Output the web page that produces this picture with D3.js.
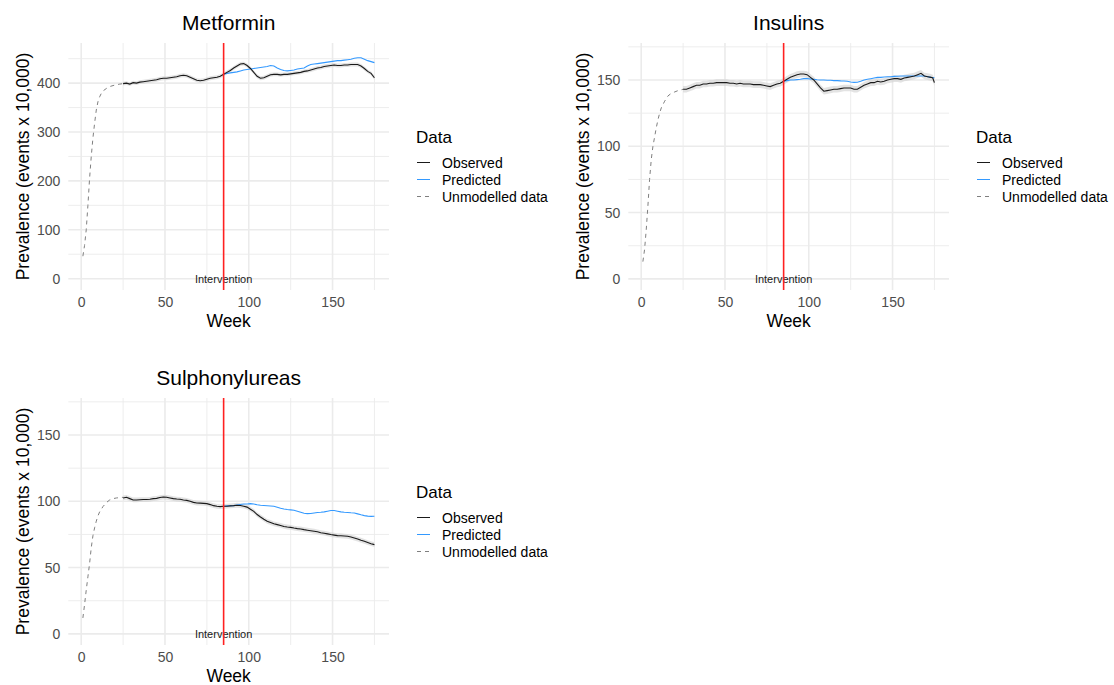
<!DOCTYPE html>
<html>
<head>
<meta charset="utf-8">
<script src="https://cdn.jsdelivr.net/npm/d3@7/dist/d3.min.js"></script>
<style>
  html, body { margin: 0; padding: 0; background: #ffffff; }
  svg { display: block; font-family: "Liberation Sans", Arial, sans-serif; }
</style>
</head>
<body>
<svg id="chart" width="1114" height="685"></svg>
<script>
// ---- Data: weekly prevalence (events x 10,000) -------------------------
const legendLabels = ["Observed", "Predicted", "Unmodelled data"];
const interventionWeek = 85;
const interventionLabel = "Intervention";

// Metformin
const metforminUnmodelled = [[1,46],[2,68],[3,100],[4,150],[5,205],[6,250],[7,288],[8,318],[9,345],[10,362],[11,372],[12,379],[13,384],[15,389],[17,393],[20,396],[23,398],[25,399]];
const metforminObserved = [[25,399],[27,400],[29,398],[31,401],[33,400],[35,402],[37,403],[39,404],[41,405],[43,406],[45,407],[47,409],[49,410],[51,410],[53,411],[55,412],[57,413],[59,415],[61,416],[63,415],[65,412],[67,409],[69,406],[71,405],[73,406],[75,408],[77,410],[79,411],[81,412],[83,414],[85,418],[87,422],[89,426],[91,431],[93,435],[95,439],[97,440],[99,436],[101,430],[103,422],[105,414],[107,410],[109,411],[111,414],[113,417],[115,418],[117,418],[119,417],[121,418],[123,418],[125,419],[127,420],[129,421],[131,422],[133,424],[135,425],[137,427],[139,429],[141,431],[143,432],[145,434],[147,435],[149,436],[151,437],[153,436],[155,436],[157,437],[159,437],[161,438],[163,438],[165,438],[167,435],[169,430],[171,424],[173,420],[175,411]];
const metforminPredicted = [[85,418],[87,420],[89,421],[91,422],[93,423],[95,425],[97,427],[99,428],[101,429],[103,430],[105,431],[107,432],[109,433],[111,434],[113,436],[115,435],[117,431],[119,428],[121,426],[123,425],[125,426],[127,427],[129,429],[131,430],[133,431],[135,435],[137,438],[139,439],[141,440],[143,441],[145,442],[147,443],[149,444],[151,445],[153,446],[155,446],[157,447],[159,448],[161,449],[163,451],[165,452],[167,452],[169,449],[171,446],[173,444],[175,442]];
const metforminBand = 4;

// Insulins
const insulinsUnmodelled = [[1,13],[2,22],[3,37],[4,55],[5,75],[6,90],[7,100],[8,107],[9,114],[10,120],[11,125],[12,129],[14,134],[16,138],[18,140],[20,141],[22,142],[25,143]];
const insulinsObserved = [[25,143],[27,143],[29,144],[31,145],[33,146],[35,146],[37,147],[39,147],[41,147.5],[43,147.5],[45,148],[47,148],[49,148],[51,148],[53,147.5],[55,147.5],[57,147],[59,147.5],[61,147],[63,147],[65,147],[67,146.5],[69,146.5],[71,146.5],[73,146],[75,145.5],[77,145],[79,146],[81,147],[83,147.5],[85,149],[87,150.5],[89,152],[91,153],[93,154],[95,154.5],[97,154.5],[99,154],[101,152],[103,150],[105,147],[107,144],[109,141.5],[111,142],[113,142.5],[115,143],[117,143],[119,143.5],[121,144],[123,144],[125,144],[127,143],[129,143],[131,144.5],[133,146],[135,147],[137,148],[139,148],[141,149],[143,148.5],[145,149],[147,150],[149,150.5],[151,151],[153,151],[155,150.5],[157,151.5],[159,152],[161,152.5],[163,153],[165,154],[167,155],[169,153],[171,152.5],[173,152],[174,151.5],[175,148]];
const insulinsPredicted = [[85,149],[87,149.5],[89,150],[91,150],[93,150.3],[95,150.5],[97,151],[99,151],[101,150.8],[103,150.5],[105,150.2],[107,150],[109,150],[111,149.8],[113,149.8],[115,149.5],[117,149.5],[119,149.3],[121,149.2],[123,149],[125,148.5],[127,148.2],[129,148.3],[131,149],[133,150],[135,150.5],[137,151],[139,151.5],[141,152],[143,152],[145,152.3],[147,152.5],[149,152.5],[151,152.7],[153,152.8],[155,153],[157,153],[159,153],[161,153],[163,153],[165,153],[167,153],[169,153],[171,152.5],[173,152],[175,151.7]];
const insulinsBand = 2.5;

// Sulphonylureas
const sulphUnmodelled = [[1,12],[2,22],[3,33],[4,43],[5,53],[6,65],[7,74],[8,80],[9,85],[10,89],[11,92],[12,94],[13,96],[15,99],[17,101],[19,102],[21,102.5],[25,103]];
const sulphObserved = [[25,102.5],[27,103],[29,102],[31,101],[33,101],[35,101.2],[37,101.3],[39,101.3],[41,101.5],[43,102],[45,102.2],[47,102.8],[49,103.2],[51,103],[53,102.5],[55,102],[57,101.7],[59,101.5],[61,101],[63,100.7],[65,100],[67,99.2],[69,98.7],[71,98.6],[73,98.4],[75,98.2],[77,97.5],[79,96.7],[81,96.2],[83,96],[85,96.2],[87,96.3],[89,96.5],[91,96.7],[93,97],[95,96.8],[97,96.3],[99,95.6],[101,94],[103,92.4],[105,90],[107,88.2],[109,86.5],[111,84.9],[113,84],[115,83],[117,82.4],[119,81.8],[121,81],[123,80.6],[125,80.3],[127,79.8],[129,79.4],[131,79.1],[133,78.6],[135,78.2],[137,77.8],[139,77.4],[141,77],[143,76.3],[145,75.9],[147,75.4],[149,74.9],[151,74.5],[153,74.1],[155,74],[157,73.8],[159,73.6],[161,73],[163,72.3],[165,71.5],[167,70.6],[169,69.8],[171,68.9],[173,68],[175,67.3]];
const sulphPredicted = [[85,96.2],[87,96.5],[89,96.6],[91,96.7],[93,97.2],[95,97.6],[97,97.9],[99,98],[101,98.2],[103,97.9],[105,97.4],[107,97],[109,96.8],[111,96.6],[113,96.4],[115,96.2],[117,95.5],[119,94.8],[121,94.2],[123,93.8],[125,93.5],[127,93.2],[129,92.5],[131,91.8],[133,91],[135,90.7],[137,90.8],[139,91.2],[141,91.5],[143,91.7],[145,92],[147,92.5],[149,93],[151,93],[153,92.5],[155,92],[157,91.7],[159,91.5],[161,91.3],[163,91.2],[165,90.5],[167,89.8],[169,89.2],[171,88.8],[173,88.6],[175,88.7]];
const sulphBand = 1.8;

// Axis ticks
const xTicks = [0, 50, 100, 150];
const xMinorTicks = [25, 75, 125, 175];
const metforminYTicks = [0, 100, 200, 300, 400];
const metforminYMinor = [50, 150, 250, 350, 450];
const smallYTicks = [0, 50, 100, 150];
const smallYMinor = [25, 75, 125, 175];

// ---- Layout ------------------------------------------------------------
const panels = [
  { title: "Metformin", ox: 0, oy: 0, unmodelled: metforminUnmodelled, observed: metforminObserved,
    predicted: metforminPredicted, band: metforminBand, yDomain: [-23.1, 482.1],
    yTicks: metforminYTicks, yMinor: metforminYMinor },
  { title: "Insulins", ox: 560, oy: 0, unmodelled: insulinsUnmodelled, observed: insulinsObserved,
    predicted: insulinsPredicted, band: insulinsBand, yDomain: [-8.4, 177.9],
    yTicks: smallYTicks, yMinor: smallYMinor },
  { title: "Sulphonylureas", ox: 0, oy: 355, unmodelled: sulphUnmodelled, observed: sulphObserved,
    predicted: sulphPredicted, band: sulphBand, yDomain: [-8.4, 177.9],
    yTicks: smallYTicks, yMinor: smallYMinor }
];

const P = { left: 68.3, right: 389, top: 43, bottom: 290 };
const COLORS = { observed: "#1a1a1a", predicted: "#3399ff", unmodelled: "#7f7f7f",
                 grid: "#ebebeb", tick: "#4d4d4d", band: "#d0d0d0", red: "#ff2020" };

const svg = d3.select("#chart");

panels.forEach(p => {
  const g = svg.append("g").attr("transform", `translate(${p.ox},${p.oy})`);

  const x = d3.scaleLinear().domain([-7.7, 183.7]).range([P.left, P.right]);
  const y = d3.scaleLinear().domain(p.yDomain).range([P.bottom, P.top]);

  // grid: minor then major
  const grid = g.append("g");
  grid.selectAll(".ymin").data(p.yMinor).join("line")
    .attr("x1", P.left).attr("x2", P.right)
    .attr("y1", d => y(d)).attr("y2", d => y(d))
    .attr("stroke", COLORS.grid).attr("stroke-width", 0.9);
  grid.selectAll(".xmin").data(xMinorTicks).join("line")
    .attr("y1", P.top).attr("y2", P.bottom)
    .attr("x1", d => x(d)).attr("x2", d => x(d))
    .attr("stroke", COLORS.grid).attr("stroke-width", 0.9);
  grid.selectAll(".ymaj").data(p.yTicks).join("line")
    .attr("x1", P.left).attr("x2", P.right)
    .attr("y1", d => y(d)).attr("y2", d => y(d))
    .attr("stroke", COLORS.grid).attr("stroke-width", 1.6);
  grid.selectAll(".xmaj").data(xTicks).join("line")
    .attr("y1", P.top).attr("y2", P.bottom)
    .attr("x1", d => x(d)).attr("x2", d => x(d))
    .attr("stroke", COLORS.grid).attr("stroke-width", 1.6);

  // axes (labels only)
  const yAxis = g.append("g").attr("transform", `translate(${P.left - 2},0)`)
    .call(d3.axisLeft(y).tickValues(p.yTicks).tickSize(0).tickPadding(6).tickFormat(d3.format("d")));
  const xAxis = g.append("g").attr("transform", `translate(0,${P.bottom + 3})`)
    .call(d3.axisBottom(x).tickValues(xTicks).tickSize(0).tickPadding(4).tickFormat(d3.format("d")));
  [yAxis, xAxis].forEach(a => {
    a.select(".domain").remove();
    a.selectAll("text").attr("fill", COLORS.tick).style("font-size", "14px")
      .style("font-family", "'Liberation Sans', Arial, sans-serif");
  });

  // confidence band around observed
  const area = d3.area().x(d => x(d[0])).y0(d => y(d[1] - p.band)).y1(d => y(d[1] + p.band));
  g.append("path").datum(p.observed).attr("d", area)
    .attr("fill", COLORS.band).attr("opacity", 0.6);

  const line = d3.line().x(d => x(d[0])).y(d => y(d[1]));
  g.append("path").datum(p.unmodelled).attr("d", line)
    .attr("fill", "none").attr("stroke", COLORS.unmodelled).attr("stroke-width", 1)
    .attr("stroke-dasharray", "4,4");
  g.append("path").datum(p.predicted).attr("d", line)
    .attr("fill", "none").attr("stroke", COLORS.predicted).attr("stroke-width", 1.1);
  g.append("path").datum(p.observed).attr("d", line)
    .attr("fill", "none").attr("stroke", COLORS.observed).attr("stroke-width", 1.1);

  // intervention annotation
  g.append("text").attr("x", x(interventionWeek)).attr("y", y(0))
    .attr("text-anchor", "middle").attr("dominant-baseline", "central")
    .attr("fill", "#1a1a1a").style("font-size", "11px").text(interventionLabel);
  g.append("line").attr("x1", x(interventionWeek)).attr("x2", x(interventionWeek))
    .attr("y1", P.top).attr("y2", P.bottom)
    .attr("stroke", COLORS.red).attr("stroke-width", 1.6);

  // titles
  const cx = (P.left + P.right) / 2;
  g.append("text").attr("x", cx).attr("y", 29.5).attr("text-anchor", "middle")
    .attr("fill", "#000").style("font-size", "21px").text(p.title);
  g.append("text").attr("x", cx).attr("y", 327).attr("text-anchor", "middle")
    .attr("fill", "#000").style("font-size", "17.5px").text("Week");
  g.append("text").attr("transform", `translate(28.5,${(P.top + P.bottom) / 2}) rotate(-90)`)
    .attr("text-anchor", "middle").attr("fill", "#000").style("font-size", "17.5px")
    .text("Prevalence (events x 10,000)");

  // legend
  const lg = g.append("g").attr("transform", "translate(416,0)");
  lg.append("text").attr("x", 0).attr("y", 143).attr("fill", "#000")
    .style("font-size", "17px").text("Data");
  const keyStyles = [
    { color: COLORS.observed, dash: null },
    { color: COLORS.predicted, dash: null },
    { color: COLORS.unmodelled, dash: "4,4" }
  ];
  const keyY = [162.5, 179.5, 196.5];
  legendLabels.forEach((lab, i) => {
    lg.append("line").attr("x1", 1).attr("x2", 14).attr("y1", keyY[i]).attr("y2", keyY[i])
      .attr("stroke", keyStyles[i].color).attr("stroke-width", 1.2)
      .attr("shape-rendering", "crispEdges")
      .attr("stroke-dasharray", keyStyles[i].dash);
    lg.append("text").attr("x", 26).attr("y", keyY[i]).attr("dominant-baseline", "central")
      .attr("fill", "#000").style("font-size", "14px").text(lab);
  });
});
</script>
</body>
</html>
